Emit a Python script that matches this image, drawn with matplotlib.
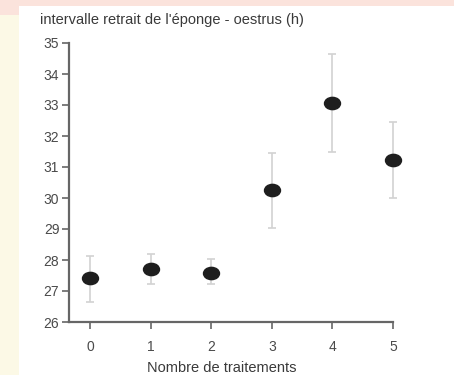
import numpy as np
import matplotlib
matplotlib.use("Agg")
import matplotlib.pyplot as plt
from matplotlib.path import Path
from matplotlib.transforms import Affine2D
from matplotlib.patches import Rectangle

# mean sponge-removal -> oestrus interval per number of treatments
traitements = [0, 1, 2, 3, 4, 5]
moyenne     = [27.42, 27.70, 27.58, 30.25, 33.05, 31.22]
borne_basse = [26.65, 27.22, 27.22, 29.03, 31.50, 30.00]
borne_haute = [28.13, 28.20, 28.03, 31.45, 34.65, 32.45]
yticks      = [26, 27, 28, 29, 30, 31, 32, 33, 34, 35]

plt.rcParams['font.family'] = ['Liberation Sans', 'DejaVu Sans']

fig = plt.figure(figsize=(4.54, 3.75), dpi=100)
fig.patch.set_facecolor('#fcf9e6')
# white page with a faint pink band above it
fig.patches.append(Rectangle((0, 0.96), 1, 0.04, transform=fig.transFigure,
                             facecolor='#fbe3dc', edgecolor='none', zorder=-2))
fig.patches.append(Rectangle((19/454, 0), 1, 1 - 6/375, transform=fig.transFigure,
                             facecolor='white', edgecolor='none', zorder=-1))

ax = fig.add_axes([69/454, 1 - 322/375, 324/454, 279/375])
ax.set_facecolor('none')

m = np.array(moyenne)
err = [m - np.array(borne_basse), np.array(borne_haute) - m]

# slightly flattened dots
ellipse = Path.unit_circle().transformed(Affine2D().scale(1.3, 1.0))

ax.errorbar(traitements, moyenne, yerr=err, fmt='none', ecolor='#d2d2d2',
            elinewidth=1.2, capsize=3, capthick=1.2, zorder=2, clip_on=False)
ax.plot(traitements, moyenne, linestyle='none', marker=ellipse, markersize=11.5,
        color='#1e1e1e', zorder=3, clip_on=False)

ax.set_xlim(-0.35, 5.0)
ax.set_ylim(26, 35)
ax.set_xticks(traitements)
ax.set_yticks(yticks)

for s in ['top', 'right']:
    ax.spines[s].set_visible(False)
for s in ['left', 'bottom']:
    ax.spines[s].set_color('#666666')
    ax.spines[s].set_linewidth(1.6)

ax.tick_params(axis='both', colors='#666666', labelcolor='#4a4a4a',
               labelsize=10, length=5, width=1.2)
ax.tick_params(axis='x', pad=8)
ax.tick_params(axis='y', pad=2)

ax.set_xlabel('Nombre de traitements', fontsize=10.5, color='#3a3a3a')
ax.xaxis.set_label_coords((222 - 69) / 324, -(368 - 322) / 279)
ax.xaxis.label.set_va('center')
fig.text(40/454, 1 - 20/375, "intervalle retrait de l'éponge - oestrus (h)",
         fontsize=10.5, color='#3a3a3a', va='center', ha='left')

fig.savefig('out.png', dpi=100)
